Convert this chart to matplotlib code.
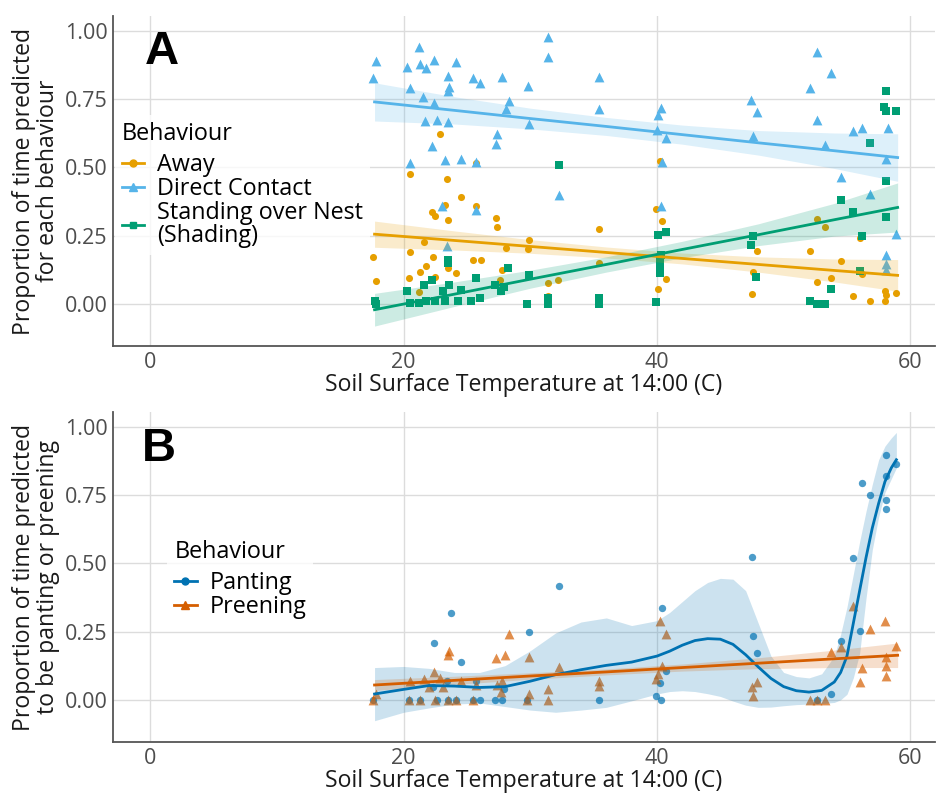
import matplotlib
matplotlib.use("Agg")
import matplotlib.pyplot as plt
from matplotlib.lines import Line2D
import numpy as np

plt.rcParams['font.family'] = ['Open Sans', 'DejaVu Sans']

# ---------------- Panel A data ----------------
dc_x = [17.8, 17.6, 21.2, 20.3, 21.3, 21.8, 22.4, 24.1, 23.5, 23.6, 23.5, 20.5, 21.5, 22.4, 21.7, 22.6, 23.5, 25.5, 26.0, 27.8,
        29.8, 28.3, 28.1, 29.9, 27.4, 27.3, 22.2, 20.5, 23.3, 24.5, 25.7, 23.0, 25.7, 23.4, 31.4, 31.4, 35.4, 35.4, 40.3, 40.1,
        40.0, 40.7, 40.4, 32.3, 40.3, 52.6, 53.7, 52.1, 47.4, 47.9, 47.6, 52.6, 53.3, 55.5, 56.2, 58.2, 58.1, 54.5, 56.8, 58.9,
        58.1, 58.1, 58.1]
dc_y = [0.890, 0.827, 0.943, 0.869, 0.878, 0.863, 0.894, 0.885, 0.835, 0.796, 0.780, 0.790, 0.759, 0.737, 0.670, 0.674, 0.665,
        0.827, 0.808, 0.833, 0.799, 0.744, 0.713, 0.658, 0.623, 0.586, 0.580, 0.515, 0.527, 0.531, 0.519, 0.359, 0.344, 0.210,
        0.979, 0.903, 0.830, 0.714, 0.717, 0.692, 0.637, 0.607, 0.521, 0.399, 0.357, 0.924, 0.845, 0.790, 0.747, 0.702, 0.615,
        0.672, 0.582, 0.634, 0.643, 0.646, 0.531, 0.464, 0.403, 0.256, 0.177, 0.145, 0.125]

away_x = [22.9, 20.5, 23.4, 24.5, 22.2, 22.5, 23.3, 23.5, 25.7, 27.3, 27.4, 21.6, 17.6, 20.5, 22.3, 17.8, 21.3, 21.8, 20.4, 21.2,
          22.5, 23.5, 24.1, 25.5, 26.1, 28.1, 29.9, 29.8, 27.8, 27.6, 25.7, 35.4, 35.4, 31.4, 32.2, 31.4, 39.9, 40.4, 40.2, 40.7,
          40.1, 47.9, 47.6, 47.5, 52.6, 53.3, 52.1, 52.6, 53.7, 54.5, 55.5, 56.0, 56.2, 56.8, 58.0, 58.1, 58.0, 58.9]
away_y = [0.622, 0.476, 0.457, 0.393, 0.335, 0.320, 0.363, 0.308, 0.357, 0.316, 0.283, 0.228, 0.171, 0.188, 0.171, 0.085, 0.116,
          0.137, 0.094, 0.043, 0.098, 0.131, 0.112, 0.161, 0.161, 0.206, 0.232, 0.201, 0.122, 0.088, 0.515, 0.275, 0.151, 0.076,
          0.088, 0.030, 0.347, 0.305, 0.524, 0.092, 0.055, 0.192, 0.118, 0.036, 0.310, 0.280, 0.195, 0.079, 0.096, 0.155, 0.030,
          0.241, 0.109, 0.011, 0.048, 0.033, 0.011, 0.041]

sn_x = [17.7, 17.8, 20.3, 20.5, 21.6, 22.2, 21.2, 21.8, 22.5, 23.1, 23.5, 23.5, 23.6, 23.3, 24.3, 24.5, 25.7, 25.3, 26.0, 27.2,
        27.7, 28.2, 27.9, 29.7, 29.9, 32.3, 31.4, 31.4, 35.4, 35.4, 39.9, 40.1, 40.7, 40.2, 40.2, 40.2, 40.3, 58.1, 57.9, 58.1,
        58.9, 56.8, 58.1, 54.5, 55.5, 58.1, 56.2, 47.6, 47.4, 47.8, 56.0, 53.7, 52.1, 52.6, 53.3, 52.9]
sn_y = [0.011, 0.0, 0.045, 0.004, 0.070, 0.088, 0.004, 0.011, 0.010, 0.045, 0.161, 0.149, 0.067, 0.010, 0.010, 0.049, 0.096,
        0.010, 0.021, 0.070, 0.045, 0.131, 0.060, 0.0, 0.106, 0.509, 0.021, 0.0, 0.021, 0.0, 0.008, 0.253, 0.262, 0.167, 0.143,
        0.112, 0.180, 0.780, 0.723, 0.708, 0.705, 0.591, 0.451, 0.381, 0.335, 0.318, 0.249, 0.250, 0.214, 0.098, 0.121, 0.054,
        0.009, 0.0, 0.0, 0.0]

# fitted lines
fit_x = [17.7, 24, 30, 36, 42, 48, 54, 59]
dc_fit = [0.740, 0.709, 0.679, 0.650, 0.620, 0.590, 0.561, 0.536]
dc_hw = [0.070, 0.050, 0.038, 0.033, 0.035, 0.045, 0.065, 0.087]
away_fit = [0.255, 0.232, 0.210, 0.188, 0.166, 0.144, 0.122, 0.104]
away_hw = [0.048, 0.035, 0.025, 0.020, 0.020, 0.028, 0.042, 0.058]
sn_fit = [-0.022, 0.035, 0.090, 0.144, 0.199, 0.253, 0.308, 0.353]
sn_hw = [0.060, 0.045, 0.033, 0.028, 0.030, 0.040, 0.060, 0.090]

# ---------------- Panel B data ----------------
pant_x = [23.7, 22.4, 24.5, 29.9, 17.6, 20.4, 21.3, 22.6, 23.5, 24.1, 25.5, 26.0, 27.2, 27.8, 29.7, 23.4, 25.7, 27.9, 22.3, 32.3,
          35.4, 40.4, 39.9, 40.3, 40.2, 40.7, 47.5, 47.6, 47.9, 52.6, 53.7, 54.5, 55.5, 56.0, 56.2, 56.8, 58.1, 58.1, 58.1, 58.1,
          58.9]
pant_y = [0.318, 0.208, 0.137, 0.249, 0.0, 0.0, 0.0, 0.0, 0.0, 0.0, 0.0, 0.0, 0.0, 0.0, 0.0, 0.070, 0.067, 0.039, 0.045, 0.418,
          0.0, 0.338, 0.015, 0.0, 0.060, 0.104, 0.525, 0.234, 0.170, 0.0, 0.021, 0.214, 0.521, 0.253, 0.796, 0.750, 0.897, 0.821,
          0.733, 0.699, 0.866]

pre_x = [28.3, 23.6, 23.5, 28.0, 27.3, 29.9, 22.4, 20.5, 21.6, 22.0, 22.9, 23.1, 24.5, 25.7, 27.4, 27.8, 27.7, 17.8, 17.6, 20.4,
         21.3, 22.5, 23.5, 24.1, 25.5, 29.7, 29.9, 40.2, 40.7, 40.4, 40.1, 39.9, 32.3, 31.4, 31.4, 35.4, 35.4, 47.9, 47.5, 47.6,
         52.1, 52.6, 53.3, 53.7, 54.5, 55.5, 56.2, 56.0, 56.8, 58.0, 58.1, 58.1, 58.1, 58.9]
pre_y = [0.240, 0.179, 0.164, 0.165, 0.153, 0.157, 0.103, 0.070, 0.076, 0.045, 0.079, 0.045, 0.067, 0.055, 0.055, 0.070, 0.030,
         0.021, 0.0, 0.0, 0.0, 0.0, 0.0, 0.0, 0.0, 0.0, 0.020, 0.289, 0.240, 0.125, 0.094, 0.076, 0.121, 0.039, 0.0, 0.070, 0.050,
         0.064, 0.045, 0.015, 0.0, 0.0, 0.0, 0.176, 0.192, 0.344, 0.116, 0.064, 0.259, 0.289, 0.155, 0.125, 0.088, 0.198]

pre_fit = [0.054, 0.071, 0.087, 0.102, 0.118, 0.134, 0.150, 0.163]
pre_hw = [0.020, 0.015, 0.012, 0.011, 0.013, 0.020, 0.032, 0.045]

sm_x = [17.7, 20, 22, 24, 26, 28, 30, 32, 34, 36, 38, 40, 41, 42, 43, 44, 45, 46, 47, 48, 49, 50, 51, 52, 53, 54,
        54.5, 55, 55.5, 56, 56.5, 57, 57.5, 58, 58.5, 58.9]
sm_fit = [0.021, 0.038, 0.052, 0.050, 0.045, 0.048, 0.068, 0.092, 0.110, 0.126, 0.138, 0.160, 0.178, 0.200, 0.217, 0.224,
          0.222, 0.203, 0.165, 0.120, 0.078, 0.048, 0.033, 0.028, 0.034, 0.065, 0.100, 0.160, 0.280, 0.400, 0.520, 0.630,
          0.720, 0.800, 0.850, 0.880]
sm_hi = [0.118, 0.122, 0.115, 0.100, 0.100, 0.125, 0.180, 0.245, 0.285, 0.300, 0.272, 0.290, 0.320, 0.360, 0.400, 0.430,
         0.445, 0.442, 0.400, 0.280, 0.160, 0.100, 0.085, 0.080, 0.095, 0.160, 0.240, 0.340, 0.460, 0.580, 0.690, 0.790,
         0.880, 0.930, 0.960, 0.980]
sm_lo = [-0.077, -0.046, -0.030, -0.016, -0.012, -0.025, -0.038, -0.046, -0.038, -0.028, -0.004, 0.021, 0.030, 0.033, 0.030,
         0.022, 0.012, -0.005, -0.020, -0.028, -0.027, -0.022, -0.018, -0.016, -0.014, -0.010, 0.000, 0.020, 0.080, 0.170,
         0.370, 0.550, 0.670, 0.760, 0.810, 0.850]

x_ticks = [0, 20, 40, 60]
y_ticks = [0.0, 0.25, 0.50, 0.75, 1.00]
y_ticklabels = ["0.00", "0.25", "0.50", "0.75", "1.00"]

C_AWAY, C_DC, C_SN = "#E69F00", "#56B4E9", "#009E73"
C_PANT, C_PRE = "#0072B2", "#D55E00"

TICK_FS = 15.5
XLAB_FS = 16.6
YLAB_FS = 16.6
LEG_FS = 16.8

fig = plt.figure(figsize=(9.39, 7.93), dpi=100)
axA = fig.add_axes([113/939, 1-346/793, 822/939, 330/793])
axB = fig.add_axes([113/939, 1-742/793, 822/939, 330/793])

def style(ax, ylabel):
    ax.set_xlim(-2.95, 61.95)
    ax.set_ylim(-0.155, 1.055)
    ax.set_xticks(x_ticks)
    ax.set_yticks(y_ticks)
    ax.set_yticklabels(y_ticklabels)
    ax.grid(True, color="#dcdcdc", linewidth=1.0)
    ax.set_axisbelow(True)
    for s in ["top", "right"]:
        ax.spines[s].set_visible(False)
    for s in ["left", "bottom"]:
        ax.spines[s].set_color("#555555")
        ax.spines[s].set_linewidth(1.3)
    ax.tick_params(axis="both", length=0, labelsize=TICK_FS, labelcolor="#4d4d4d", pad=4)
    ax.set_xlabel("Soil Surface Temperature at 14:00 (C)", fontsize=XLAB_FS, color="#1a1a1a", labelpad=0)
    ax.set_ylabel(ylabel, fontsize=YLAB_FS, color="#1a1a1a", labelpad=3, linespacing=1.0)

style(axA, "Proportion of time predicted\nfor each behaviour")
style(axB, "Proportion of time predicted\nto be panting or preening")

# Panel A
axA.scatter(away_x, away_y, marker="o", s=26, color=C_AWAY, linewidths=0, zorder=3)
axA.scatter(dc_x, dc_y, marker="^", s=50, color=C_DC, linewidths=0, zorder=3)
axA.scatter(sn_x, sn_y, marker="s", s=30, color=C_SN, linewidths=0, zorder=3)
for fit, hw, c in [(away_fit, away_hw, C_AWAY), (dc_fit, dc_hw, C_DC), (sn_fit, sn_hw, C_SN)]:
    f = np.array(fit); h = np.array(hw)
    axA.fill_between(fit_x, f - h, f + h, color=c, alpha=0.2, linewidth=0, zorder=4)
    axA.plot(fit_x, f, color=c, linewidth=2.0, zorder=5)

hA = [Line2D([], [], color=C_AWAY, marker="o", markersize=5, linewidth=2),
      Line2D([], [], color=C_DC, marker="^", markersize=6, linewidth=2),
      Line2D([], [], color=C_SN, marker="s", markersize=5, linewidth=2)]
legA = axA.legend(hA, ["Away", "Direct Contact", "Standing over Nest\n(Shading)"], title="Behaviour",
                  loc="upper left", bbox_to_anchor=(-0.012, 0.735), frameon=True,
                  fontsize=LEG_FS, title_fontsize=LEG_FS,
                  handlelength=0.95, handletextpad=0.55, labelspacing=0.0, borderpad=0.3, alignment="left")
legA.get_frame().set_facecolor("white")
legA.get_frame().set_edgecolor("none")
legA._legend_box.sep = 5
for t in legA.get_texts():
    t.set_linespacing(0.95)

# Panel B
axB.scatter(pant_x, pant_y, marker="o", s=28, color=C_PANT, alpha=0.7, linewidths=0, zorder=3)
axB.scatter(pre_x, pre_y, marker="^", s=50, color=C_PRE, alpha=0.7, linewidths=0, zorder=3)
axB.fill_between(sm_x, sm_lo, sm_hi, color=C_PANT, alpha=0.2, linewidth=0, zorder=4)
pf = np.array(pre_fit); ph = np.array(pre_hw)
axB.fill_between(fit_x, pf - ph, pf + ph, color=C_PRE, alpha=0.2, linewidth=0, zorder=4)
axB.plot(sm_x, sm_fit, color=C_PANT, linewidth=2.0, zorder=5)
axB.plot(fit_x, pf, color=C_PRE, linewidth=2.0, zorder=5)

hB = [Line2D([], [], color=C_PANT, marker="o", markersize=5, linewidth=2),
      Line2D([], [], color=C_PRE, marker="^", markersize=6, linewidth=2)]
legB = axB.legend(hB, ["Panting", "Preening"], title="Behaviour",
                  loc="upper left", bbox_to_anchor=(0.052, 0.668), frameon=True,
                  fontsize=LEG_FS, title_fontsize=LEG_FS,
                  handlelength=0.95, handletextpad=0.55, labelspacing=0.0, borderpad=0.3, alignment="left")
legB.get_frame().set_facecolor("white")
legB.get_frame().set_edgecolor("none")
legB._legend_box.sep = 5

fig.text(145/939, 1-30/793, "A", fontsize=34, fontweight="bold", family="Liberation Sans", va="top", ha="left")
fig.text(142/939, 1-427/793, "B", fontsize=34, fontweight="bold", family="Liberation Sans", va="top", ha="left")

fig.savefig("out.png", dpi=100)
